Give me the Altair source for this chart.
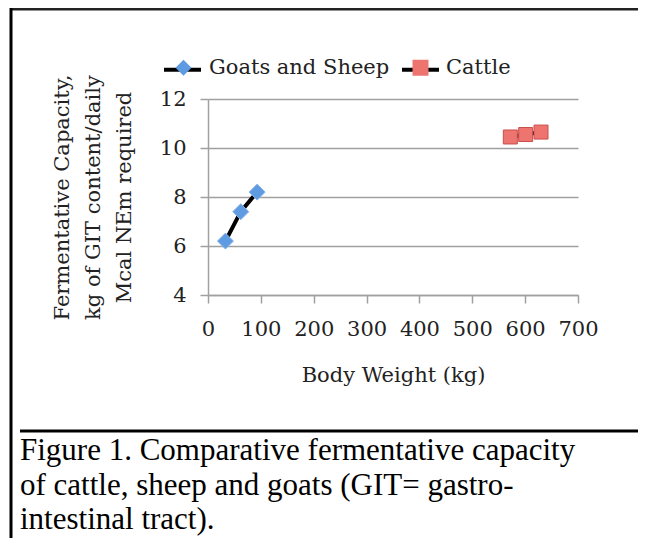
import altair as alt
import pandas as pd

# ---- data ----
series_names = ["Goats and Sheep", "Cattle"]
goat_x = [33, 62, 93]
goat_y = [6.2, 7.4, 8.2]
cattle_x = [572, 601, 630]
cattle_y = [10.45, 10.55, 10.65]
x_ticks = [0, 100, 200, 300, 400, 500, 600, 700]
y_ticks = [4, 6, 8, 10, 12]
x_title = "Body Weight (kg)"
y_title = ["Fermentative Capacity,", "kg of GIT content/daily", "Mcal NEm required"]
caption_lines = [
    "Figure 1. Comparative fermentative capacity",
    "of cattle, sheep and goats (GIT= gastro-",
    "intestinal tract).",
]

# line-legend keys are kept distinct (trailing space) so Vega-Lite does not merge the two legends
line_keys = [s + " " for s in series_names]

rows = []
for xv, yv in zip(goat_x, goat_y):
    rows.append({"bw": xv, "fc": yv, "series": series_names[0], "series_l": line_keys[0]})
for xv, yv in zip(cattle_x, cattle_y):
    rows.append({"bw": xv, "fc": yv, "series": series_names[1], "series_l": line_keys[1]})
df = pd.DataFrame(rows)

FONT = "DejaVu Serif"
CAP_FONT = "Liberation Serif"
W, H = 370, 196

xenc = alt.X(
    "bw:Q",
    scale=alt.Scale(domain=[0, 700], nice=False, zero=False),
    axis=alt.Axis(
        values=x_ticks, title=x_title, grid=False, labelFont=FONT, labelFontSize=21,
        labelColor="#222", titleFont=FONT, titleFontSize=21, titleFontWeight="normal",
        titleColor="#222", domainColor="#a0a0a0", domainWidth=1.5, tickColor="#a0a0a0",
        tickWidth=1.5, tickSize=8, labelPadding=15, titleX=W / 2, titleY=80,
        titleBaseline="middle", labelFlush=False,
    ),
)
yenc = alt.Y(
    "fc:Q",
    scale=alt.Scale(domain=[4, 12], nice=False, zero=False),
    axis=alt.Axis(
        values=y_ticks, title=y_title, grid=True, gridColor="#a0a0a0", gridWidth=1.5,
        labelFont=FONT, labelFontSize=21, labelColor="#222", titleFont=FONT,
        titleFontSize=21, titleFontWeight="normal", titleColor="#222", titleLineHeight=31,
        domainColor="#a0a0a0", domainWidth=1.5, tickColor="#a0a0a0", tickWidth=1.5,
        tickSize=8, labelPadding=14, titleX=-146, titleY=H / 2, titleBaseline="middle",
        titleAlign="center", titleAngle=-90,
    ),
)

# black line segments behind the legend markers (no visible labels)
line_legend = alt.Legend(
    orient="none", direction="horizontal", legendX=-46, legendY=-50, title=None,
    symbolType="stroke", symbolSize=1369, symbolStrokeWidth=4, symbolStrokeColor="#000000",
    labelExpr="''", labelLimit=0,
    labelFont=FONT, labelFontSize=21, labelOffset=0, columnPadding=185, zindex=1,
)
point_legend = alt.Legend(
    orient="none", direction="horizontal", legendX=-35, legendY=-42, title=None,
    symbolSize=256, symbolStrokeWidth=0, labelFont=FONT, labelFontSize=21, labelLimit=0,
    labelColor="#222", labelOffset=15, columnPadding=20, zindex=2,
)

lines = alt.Chart(df).mark_line(strokeWidth=4).encode(
    x=xenc, y=yenc,
    stroke=alt.Stroke("series_l:N", scale=alt.Scale(domain=line_keys, range=["#000000", "#000000"]),
                      legend=line_legend),
)

fill_scale = alt.Scale(domain=series_names, range=["#5f9be0", "#ee7470"])
shape_scale = alt.Scale(domain=series_names, range=["diamond", "square"])

pts_goat = alt.Chart(df).transform_filter(alt.datum.series == series_names[0]).mark_point(
    filled=True, size=256, opacity=1, stroke="#86b4ea", strokeWidth=1
).encode(
    x=xenc, y=yenc,
    fill=alt.Fill("series:N", scale=fill_scale, legend=point_legend),
    shape=alt.Shape("series:N", scale=shape_scale, legend=point_legend),
)
pts_cattle = alt.Chart(df).transform_filter(alt.datum.series == series_names[1]).mark_point(
    filled=True, size=196, opacity=1, stroke="#c9504c", strokeWidth=1
).encode(
    x=xenc, y=yenc,
    fill=alt.Fill("series:N", scale=fill_scale, legend=point_legend),
    shape=alt.Shape("series:N", scale=shape_scale, legend=point_legend),
)

one = pd.DataFrame({"k": [0]})
# frame lines and separator
frame_top = alt.Chart(one).mark_rule(color="#222", strokeWidth=3).encode(
    x=alt.value(-198), x2=alt.value(440), y=alt.value(-90))
frame_left = alt.Chart(one).mark_rule(color="#000", strokeWidth=3).encode(
    x=alt.value(-197), y=alt.value(-92), y2=alt.value(440))
separator = alt.Chart(one).mark_rule(color="#000", strokeWidth=3).encode(
    x=alt.value(-188), x2=alt.value(430), y=alt.value(332))

cap_y = [352, 387, 421]
caption_layers = [
    alt.Chart(one).mark_text(
        font=CAP_FONT, fontSize=31, align="left", baseline="middle", color="#000"
    ).encode(x=alt.value(-188), y=alt.value(cy), text=alt.value(t))
    for t, cy in zip(caption_lines, cap_y)
]

chart = alt.layer(lines, pts_goat, pts_cattle, frame_top, frame_left, separator, *caption_layers).properties(
    width=W, height=H,
    padding={"left": 200, "top": 91, "right": 60, "bottom": 243},
    autosize=alt.AutoSizeParams(type="none"),
    background="white",
).configure_view(stroke=None)

chart.save("out.html", embed_options={"renderer": "svg", "actions": False})
